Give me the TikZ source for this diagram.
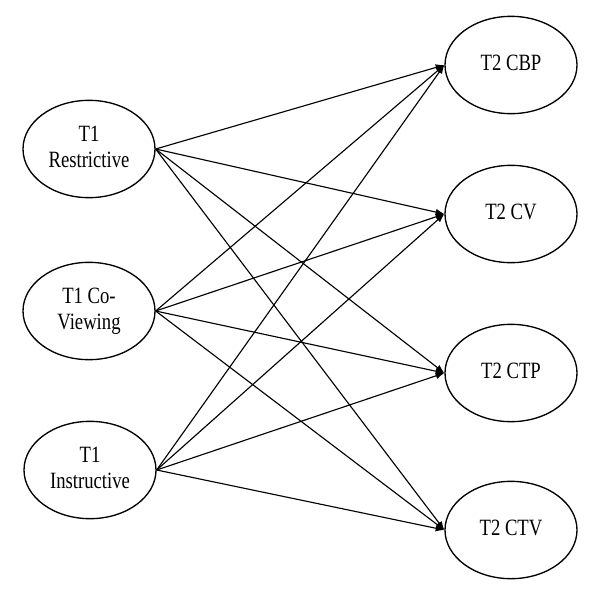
\documentclass[tikz,border=0pt]{standalone}
\usepackage{fontspec}
\setmainfont{Liberation Serif}
\usepackage{graphicx}
\usetikzlibrary{shapes.geometric,arrows.meta}
\newcommand{\vlabel}[1]{\scalebox{0.8}[1]{\begin{tabular}{@{}c@{}}#1\end{tabular}}}
\tikzset{
  var/.style={draw=black,line width=1pt,ellipse,minimum width=99pt,minimum height=73pt,inner sep=0pt,font=\fontsize{17.5}{19.5}\selectfont},
  path/.style={line width=0.85pt,-{Latex[length=6.5pt,width=5pt]}}
}
\begin{document}
\begin{tikzpicture}[x=0.75pt,y=-0.75pt]
\useasboundingbox (0,0) rectangle (616,593);
% T1 predictors
\node[var] (r1) at (89,149) {\vlabel{T1\\Restrictive}};
\node[var] (c1) at (89,311) {\vlabel{T1 Co-\\Viewing}};
\node[var] (i1) at (90,470) {\vlabel{T1\\Instructive}};
% T2 outcomes
\node[var] (cbp) at (511,65) {\vlabel{T2 CBP}};
\node[var] (cv) at (511,214) {\vlabel{T2 CV}};
\node[var] (ctp) at (511,373) {\vlabel{T2 CTP}};
\node[var] (ctv) at (511,530) {\vlabel{T2 CTV}};
% paths from Restrictive
\draw[path] (r1.east) -- (cbp.west);
\draw[path] (r1.east) -- (cv.west);
\draw[path] (r1.east) -- (ctp.west);
\draw[path] (r1.east) -- (ctv.west);
% paths from Co-Viewing
\draw[path] (c1.east) -- (cbp.west);
\draw[path] (c1.east) -- (cv.west);
\draw[path] (c1.east) -- (ctp.west);
\draw[path] (c1.east) -- (ctv.west);
% paths from Instructive
\draw[path] (i1.east) -- (cbp.west);
\draw[path] (i1.east) -- (cv.west);
\draw[path] (i1.east) -- (ctp.west);
\draw[path] (i1.east) -- (ctv.west);
\end{tikzpicture}
\end{document}
